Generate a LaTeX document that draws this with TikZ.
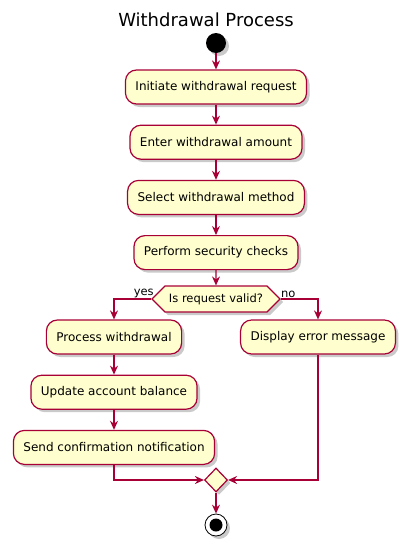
\documentclass[tikz,border=0pt]{standalone}
\usepackage{fontspec}
\setmainfont{DejaVu Sans}
\usetikzlibrary{positioning,arrows.meta,shapes.symbols,shapes.geometric,shadows}
\definecolor{umlred}{HTML}{A80036}
\definecolor{umlfill}{HTML}{FEFECE}
\tikzset{
  >={Stealth[length=9pt,width=8pt,inset=3pt]},
  umlshadow/.style={drop shadow={shadow xshift=3pt,shadow yshift=-3pt,
    opacity=0.35,fill=black!60}},
  actbox/.style={draw=umlred,fill=umlfill,line width=1.2pt,rounded corners=11pt,
    minimum height=34pt,inner xsep=10pt,font=\fontsize{12}{14}\selectfont,
    umlshadow},
  decide/.style={signal,signal to=east and west,signal from=nowhere,
    draw=umlred,fill=umlfill,line width=1.2pt,minimum height=26pt,
    inner xsep=4pt,font=\fontsize{11.5}{13}\selectfont,umlshadow},
  mergebox/.style={diamond,draw=umlred,fill=umlfill,line width=1.2pt,
    minimum width=23pt,minimum height=24pt,inner sep=0pt,umlshadow},
  startdot/.style={circle,fill=black,minimum size=20pt,inner sep=0pt,umlshadow},
  stopdot/.style={circle,draw=black,fill=white,line width=0.8pt,
    minimum size=22pt,inner sep=0pt,umlshadow},
  flow/.style={->,draw=umlred,line width=1.1pt},
  flowlbl/.style={font=\fontsize{11.5}{13}\selectfont,inner sep=1pt},
}
\begin{document}
\begin{tikzpicture}[x=1pt,y=-1pt,node distance=20pt]
  \useasboundingbox (0,0) rectangle (408,544);
  \node[font=\fontsize{18}{21}\selectfont] (title) at (206,20) {Withdrawal Process};
  \node[startdot] (start) at (216,43) {};
  \node[actbox] (init) at (216,87) {Initiate withdrawal request};
  \node[actbox,below=of init] (enter) {Enter withdrawal amount};
  \node[actbox,below=of enter] (select) {Select withdrawal method};
  \node[actbox,below=of select] (checks) {Perform security checks};
  \node[decide] (valid) at (216,299) {Is request valid?};
  \node[actbox] (process) at (114,337) {Process withdrawal};
  \node[actbox,below=of process] (update) {Update account balance};
  \node[actbox,below=of update] (confirm) {Send confirmation notification};
  \node[actbox] (errmsg) at (318,337) {Display error message};
  \node[mergebox] (merge) at (216,480) {};
  \node[stopdot] (stop) at (216,525) {};
  \fill (stop.center) circle (6.5pt);

  \draw[flow] (start) -- (init);
  \draw[flow] (init) -- (enter);
  \draw[flow] (enter) -- (select);
  \draw[flow] (select) -- (checks);
  \draw[flow] (checks) -- (valid);
  \draw[flow] (valid.west) -| (process.north)
    node[flowlbl,pos=0.1,above] {yes};
  \draw[flow] (valid.east) -| (errmsg.north)
    node[flowlbl,pos=0.1,above] {no};
  \draw[flow] (process) -- (update);
  \draw[flow] (update) -- (confirm);
  \draw[flow] (confirm.south) |- (merge.west);
  \draw[flow] (errmsg.south) |- (merge.east);
  \draw[flow] (merge) -- (stop);
\end{tikzpicture}
\end{document}
